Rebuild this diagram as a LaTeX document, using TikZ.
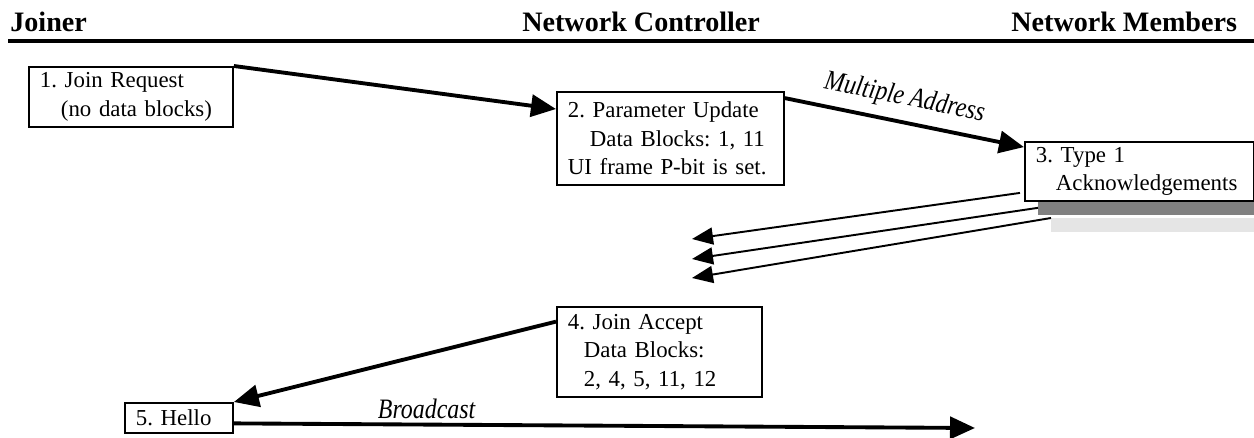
\documentclass[tikz,border=0pt]{standalone}
\usepackage{fontspec}
\setmainfont{Liberation Serif}
\newfontfamily\tagfont{Liberation Serif}[FakeStretch=0.85]
\usetikzlibrary{arrows.meta,calc}

\tikzset{
  msgbox/.style={draw, line width=1.1pt, align=left, anchor=north west,
    inner xsep=0.22cm, inner ysep=0pt, font=\fontsize{13}{16.2}\selectfont\frenchspacing},
  heading/.style={anchor=base west, inner sep=0pt, font=\fontsize{16}{19}\selectfont\bfseries},
  shadowbar/.style={anchor=north west, inner sep=0pt, minimum width=4.32cm, minimum height=0.3cm},
  msgarrow/.style={line width=2.2pt, -{Triangle[length=0.5cm,width=0.44cm]}},
  ackarrow/.style={line width=1.1pt, -{Triangle[length=0.42cm,width=0.34cm]}},
  tag/.style={font=\tagfont\fontsize{16}{18}\selectfont\itshape},
}

\begin{document}
\begin{tikzpicture}[x=0.02cm, y=-0.02cm]
  \useasboundingbox (0,0) rectangle (1254,438);

  % column headings
  \node[heading] (joinerhead) at (10,32) {Joiner};
  \node[heading] (ctrlhead) at (522,32) {Network Controller};
  \node[heading] (membershead) at (1011,32) {Network Members};
  \draw[line width=2.3pt] (8,41) -- (1254,41);

  % \node[msgbox] (test) at (0,0) {};

  \node[msgbox, text width=3.64cm, minimum height=1.2cm] (joinreq) at (28,66)
    {1. Join Request\\\hspace*{0.42cm}(no data blocks)};
  \node[msgbox, text width=4.1cm, minimum height=1.86cm] (param) at (556,91)
    {2. Parameter Update\\\hspace*{0.44cm}\mbox{Data Blocks: 1, 11}\\\mbox{UI frame P-bit is set.}};

  \node[shadowbar, fill=black!50] (shadowA) at (1038,200) {};
  \node[shadowbar, fill=black!10, minimum width=4.06cm, minimum height=0.28cm] (shadowB) at (1051,218) {};
  \node[msgbox, fill=white, text width=4.14cm, minimum height=1.18cm] (ack) at (1024,141)
    {3. Type 1\\\hspace*{0.4cm}\mbox{Acknowledgements}};

  \node[msgbox, text width=3.66cm, minimum height=1.8cm] (accept) at (556,306)
    {4. Join Accept\\\hspace*{0.32cm}Data Blocks:\\\hspace*{0.32cm}\mbox{2, 4, 5, 11, 12}};
  \node[msgbox, text width=1.72cm, minimum height=0.6cm] (hello) at (124,402) {5. Hello};

  \draw[msgarrow] (joinreq.north east) -- ($(param.north west)!0.19!(param.south west)$);
  \draw[msgarrow] ($(param.north east)!0.075!(param.south east)$)
    -- node[tag, sloped, above=2pt, pos=0.48] {Multiple Address} ($(ack.north west)!0.1!(ack.south west)$);

  \coordinate (ackA) at (692,239);
  \coordinate (ackB) at (692,259);
  \coordinate (ackC) at (692,278);
  \draw[ackarrow] ($(ack.south west)+(-4,-9)$) -- (ackA);
  \draw[ackarrow] (shadowA.west) -- (ackB);
  \draw[ackarrow] (shadowB.north west) -- (ackC);

  \draw[msgarrow] ($(accept.north west)!0.17!(accept.south west)$) -- (hello.north east);
  \coordinate (bcastend) at (975,428);
  \draw[msgarrow] ($(hello.north east)!0.67!(hello.south east)$)
    -- node[tag, above=2pt, pos=0.26, inner sep=0pt] {Broadcast} (bcastend);

\end{tikzpicture}
\end{document}
